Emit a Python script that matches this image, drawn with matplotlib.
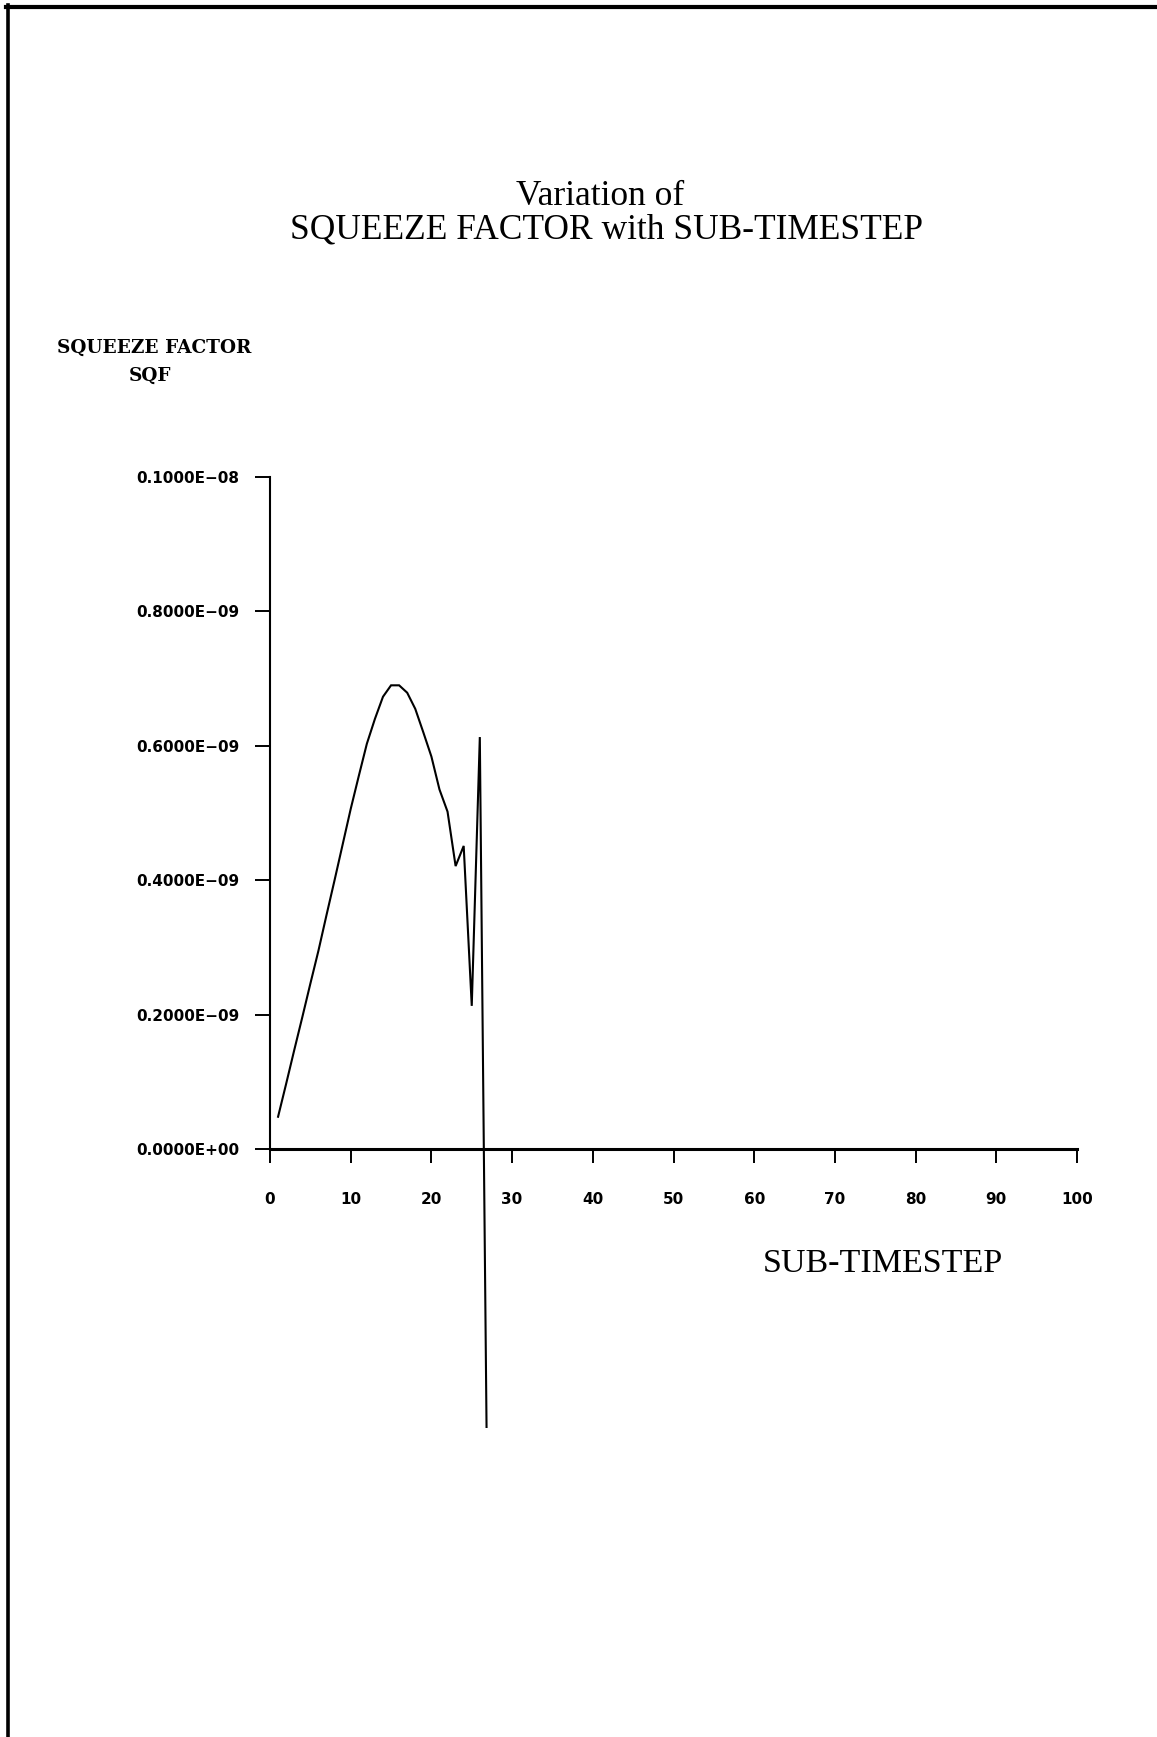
import matplotlib
matplotlib.use("Agg")
import matplotlib.pyplot as plt
from matplotlib.lines import Line2D

# Squeeze factor per sub-timestep
sub_timestep = [1, 2, 3, 4, 5, 6, 7, 8, 9, 10, 11, 12, 13, 14, 15, 16, 17,
                18, 19, 20, 21, 22, 23, 24, 25, 26, 27]
sqf = [0.048e-9, 0.097e-9, 0.147e-9, 0.196e-9, 0.246e-9, 0.295e-9,
       0.348e-9, 0.400e-9, 0.453e-9, 0.506e-9, 0.555e-9, 0.603e-9,
       0.640e-9, 0.673e-9, 0.690e-9, 0.690e-9, 0.679e-9, 0.655e-9,
       0.620e-9, 0.584e-9, 0.535e-9, 0.502e-9, 0.421e-9, 0.451e-9,
       0.213e-9, 0.613e-9, -0.620e-9]

x_ticks = [0, 10, 20, 30, 40, 50, 60, 70, 80, 90, 100]
y_ticks = [0.0, 0.2e-9, 0.4e-9, 0.6e-9, 0.8e-9, 1.0e-9]
y_tick_labels = ["0.0000E+00", "0.2000E\u221209", "0.4000E\u221209",
                 "0.6000E\u221209", "0.8000E\u221209", "0.1000E\u221208"]

W, H = 1157, 1737
fig = plt.figure(figsize=(W / 100, H / 100), dpi=100)
fig.patch.set_facecolor("white")


def fx(px):
    return px / W


def fy(py):
    return 1 - py / H


# page frame: top and left edges
fig.add_artist(Line2D([fx(6), fx(1157)], [fy(7), fy(7)], color="black", lw=3))
fig.add_artist(Line2D([fx(8), fx(8)], [fy(5), fy(1737)], color="black", lw=2.6))

# plotting window: x 0..100, y down to the clip limit below zero
y_clip = -0.415e-9
y_top = 1.0e-9
px_top, px_zero = 477, 1149
px_bottom = px_zero + (px_zero - px_top) * (-y_clip / y_top)
ax = fig.add_axes([fx(270), fy(px_bottom), fx(1077) - fx(270),
                   (px_bottom - px_top) / H])
ax.set_xlim(0, 100)
ax.set_ylim(y_clip, y_top)
ax.patch.set_alpha(0)

ax.plot(sub_timestep, sqf, color="black", lw=1.5, solid_joinstyle="miter")

for s in ("top", "right"):
    ax.spines[s].set_visible(False)
ax.spines["left"].set_bounds(0, y_top)
ax.spines["left"].set_linewidth(1.5)
ax.spines["bottom"].set_position(("data", 0))
ax.spines["bottom"].set_bounds(0, 100)
ax.spines["bottom"].set_linewidth(2.2)

ax.set_xticks(x_ticks)
ax.set_xticklabels([str(v) for v in x_ticks])
ax.set_yticks(y_ticks)
ax.set_yticklabels(y_tick_labels)
ax.tick_params(axis="x", direction="out", length=10, width=1.4, pad=21,
               labelsize=11)
ax.tick_params(axis="y", direction="out", length=11, width=1.4, pad=11,
               labelsize=11)
for lab in ax.get_xticklabels() + ax.get_yticklabels():
    lab.set_fontfamily("DejaVu Sans")
    lab.set_fontweight("bold")

# titles and axis captions
fig.text(fx(600), fy(205), "Variation of", ha="center", va="baseline",
         family="Liberation Serif", fontsize=25.5)
fig.text(fx(607), fy(238), "SQUEEZE FACTOR with SUB-TIMESTEP", ha="center",
         va="baseline", family="Liberation Serif", fontsize=25.5)
fig.text(fx(154), fy(353), "SQUEEZE FACTOR", ha="center", va="baseline",
         family="DejaVu Serif", fontweight="bold", fontsize=13.3)
fig.text(fx(150), fy(381), "SQF", ha="center", va="baseline",
         family="DejaVu Serif", fontweight="bold", fontsize=13.3)
fig.text(fx(883), fy(1272), "SUB-TIMESTEP", ha="center", va="baseline",
         family="Liberation Serif", fontsize=24.5)

fig.savefig("out.png", dpi=100, facecolor="white")
